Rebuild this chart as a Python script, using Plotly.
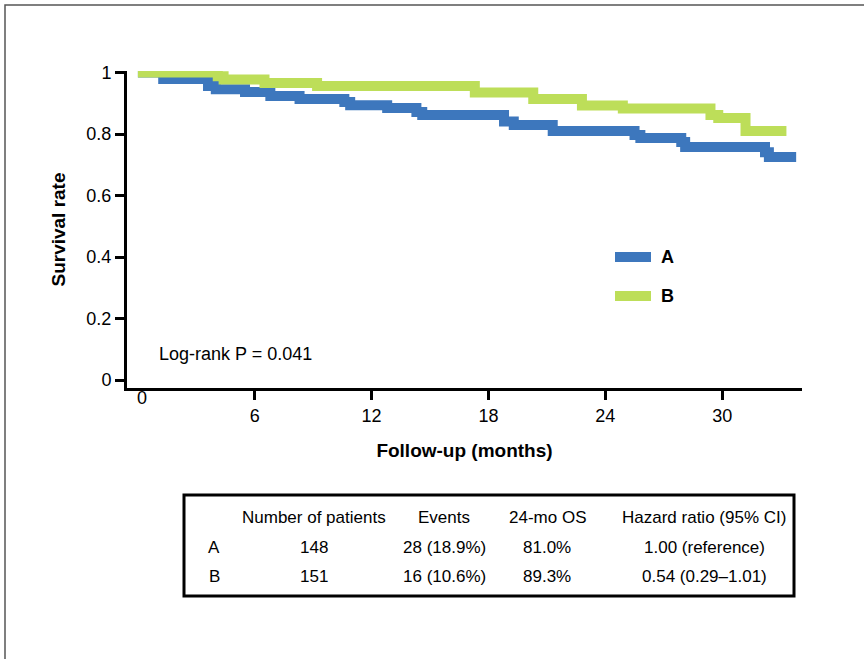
import plotly.graph_objects as go

# Kaplan-Meier estimates: follow-up time (months) and survival probability
time_a = [0, 1.3, 3.6, 4.0, 5.5, 6.8, 8.3, 10.6, 10.9, 12.8, 14.3, 14.6, 18.8, 19.3,
          21.3, 25.5, 25.8, 27.9, 28.1, 32.2, 32.4, 33.8]
surv_a = [1.0, 0.979, 0.956, 0.946, 0.937, 0.924, 0.914, 0.904, 0.894, 0.885, 0.872, 0.862,
          0.841, 0.829, 0.810, 0.797, 0.787, 0.774, 0.758, 0.741, 0.725, 0.725]
time_b = [0, 4.1, 4.4, 6.5, 9.2, 17.3, 20.3, 22.8, 24.9, 29.4, 29.8, 31.2, 33.3]
surv_b = [1.0, 0.988, 0.977, 0.966, 0.956, 0.935, 0.914, 0.893, 0.883, 0.862, 0.852, 0.810, 0.810]

group_names = ["A", "B"]
group_colors = ["#3D77BD", "#BDDE59"]

x_tickvals = [0, 6, 12, 18, 24, 30]
x_ticktext = ["0", "6", "12", "18", "24", "30"]
y_tickvals = [0, 0.2, 0.4, 0.6, 0.8, 1.0]
y_ticktext = ["0", "0.2", "0.4", "0.6", "0.8", "1"]

x_title = "Follow-up (months)"
y_title = "Survival rate"
test_note = "Log-rank P = 0.041"

# Summary table
table_headers = ["Number of patients", "Events", "24-mo OS", "Hazard ratio (95% CI)"]
n_patients = ["148", "151"]
events = ["28 (18.9%)", "16 (10.6%)"]
os_24 = ["81.0%", "89.3%"]
hazard = ["1.00 (reference)", "0.54 (0.29\u20131.01)"]

# Page geometry (pixels)
W, H = 864, 659
L, R, T, B = 127, 802, 71, 388


def fx(px):
    return (px - L) / (R - L)


def fy(py):
    return (B - py) / (B - T)


FONT = "Arial, Liberation Sans, sans-serif"

fig = go.Figure()
for t, s, name, color in [(time_a, surv_a, group_names[0], group_colors[0]),
                          (time_b, surv_b, group_names[1], group_colors[1])]:
    fig.add_trace(go.Scatter(
        x=t, y=s, mode="lines", name=name, showlegend=False,
        line=dict(color=color, width=10, shape="hv"),
    ))

annotations = []
shapes = []

# first x tick label (axis starts at the origin without a tick)
annotations.append(dict(x=x_tickvals[0], y=fy(410), xref="x", yref="paper",
                        text=x_ticktext[0], showarrow=False, xshift=4,
                        font=dict(family=FONT, size=18, color="black")))
annotations.append(dict(x=fx(157), y=fy(354), xref="paper", yref="paper",
                        text=test_note, showarrow=False, xanchor="left", yanchor="middle",
                        font=dict(family=FONT, size=18, color="black")))

# key: a short line sample and the group name for each curve
key_y = [257, 296]
for name, color, ky in zip(group_names, group_colors, key_y):
    shapes.append(dict(type="line", xref="paper", yref="paper",
                       x0=fx(615), x1=fx(651), y0=fy(ky), y1=fy(ky),
                       line=dict(color=color, width=10)))
    annotations.append(dict(x=fx(659), y=fy(ky), xref="paper", yref="paper",
                            text=name, showarrow=False, xanchor="left", yanchor="middle",
                            font=dict(family=FONT, size=18, color="black", weight="bold")))

# table text
col_x = [214, 314, 444, 547, 704]
row_y = [517, 547, 576]
for j, h in enumerate(table_headers):
    annotations.append(dict(x=fx(col_x[j + 1]), y=fy(row_y[0]), xref="paper", yref="paper",
                            text=h, showarrow=False, xanchor="center", yanchor="middle",
                            font=dict(family=FONT, size=17, color="black")))
for i in range(2):
    cells = [group_names[i], n_patients[i], events[i], os_24[i], hazard[i]]
    for j, c in enumerate(cells):
        annotations.append(dict(x=fx(col_x[j]), y=fy(row_y[i + 1]), xref="paper", yref="paper",
                                text=c, showarrow=False, xanchor="center", yanchor="middle",
                                font=dict(family=FONT, size=17, color="black")))

# table border
shapes.append(dict(type="rect", xref="paper", yref="paper",
                   x0=fx(184), x1=fx(794), y0=fy(495), y1=fy(596),
                   line=dict(color="black", width=3), fillcolor="rgba(0,0,0,0)"))
# page frame
shapes.append(dict(type="rect", xref="paper", yref="paper",
                   x0=fx(5), x1=fx(900), y0=fy(5), y1=fy(700),
                   line=dict(color="#555555", width=1.5), fillcolor="rgba(0,0,0,0)"))

fig.update_layout(
    width=W, height=H, autosize=False,
    margin=dict(l=L, r=W - R, t=T, b=H - B, pad=0),
    paper_bgcolor="white", plot_bgcolor="white",
    font=dict(family=FONT, size=18, color="black"),
    showlegend=False,
    annotations=annotations,
    shapes=shapes,
)
fig.update_xaxes(
    range=[-0.56, 34.1], tickvals=x_tickvals[1:], ticktext=x_ticktext[1:],
    ticks="outside", ticklen=9, tickwidth=3, tickcolor="black",
    showline=True, linewidth=3, linecolor="black",
    showgrid=False, zeroline=False,
    tickfont=dict(family=FONT, size=18, color="black"),
    title=dict(text=x_title, standoff=20,
               font=dict(family=FONT, size=19, color="black", weight="bold")),
)
fig.update_yaxes(
    range=[-0.026, 1.005], tickvals=y_tickvals, ticktext=y_ticktext,
    ticks="outside", ticklen=9, tickwidth=3, tickcolor="black",
    showline=True, linewidth=3, linecolor="black",
    showgrid=False, zeroline=False,
    tickfont=dict(family=FONT, size=18, color="black"),
    title=dict(text=y_title, standoff=16,
               font=dict(family=FONT, size=19, color="black", weight="bold")),
)

fig.write_html("out.html")
